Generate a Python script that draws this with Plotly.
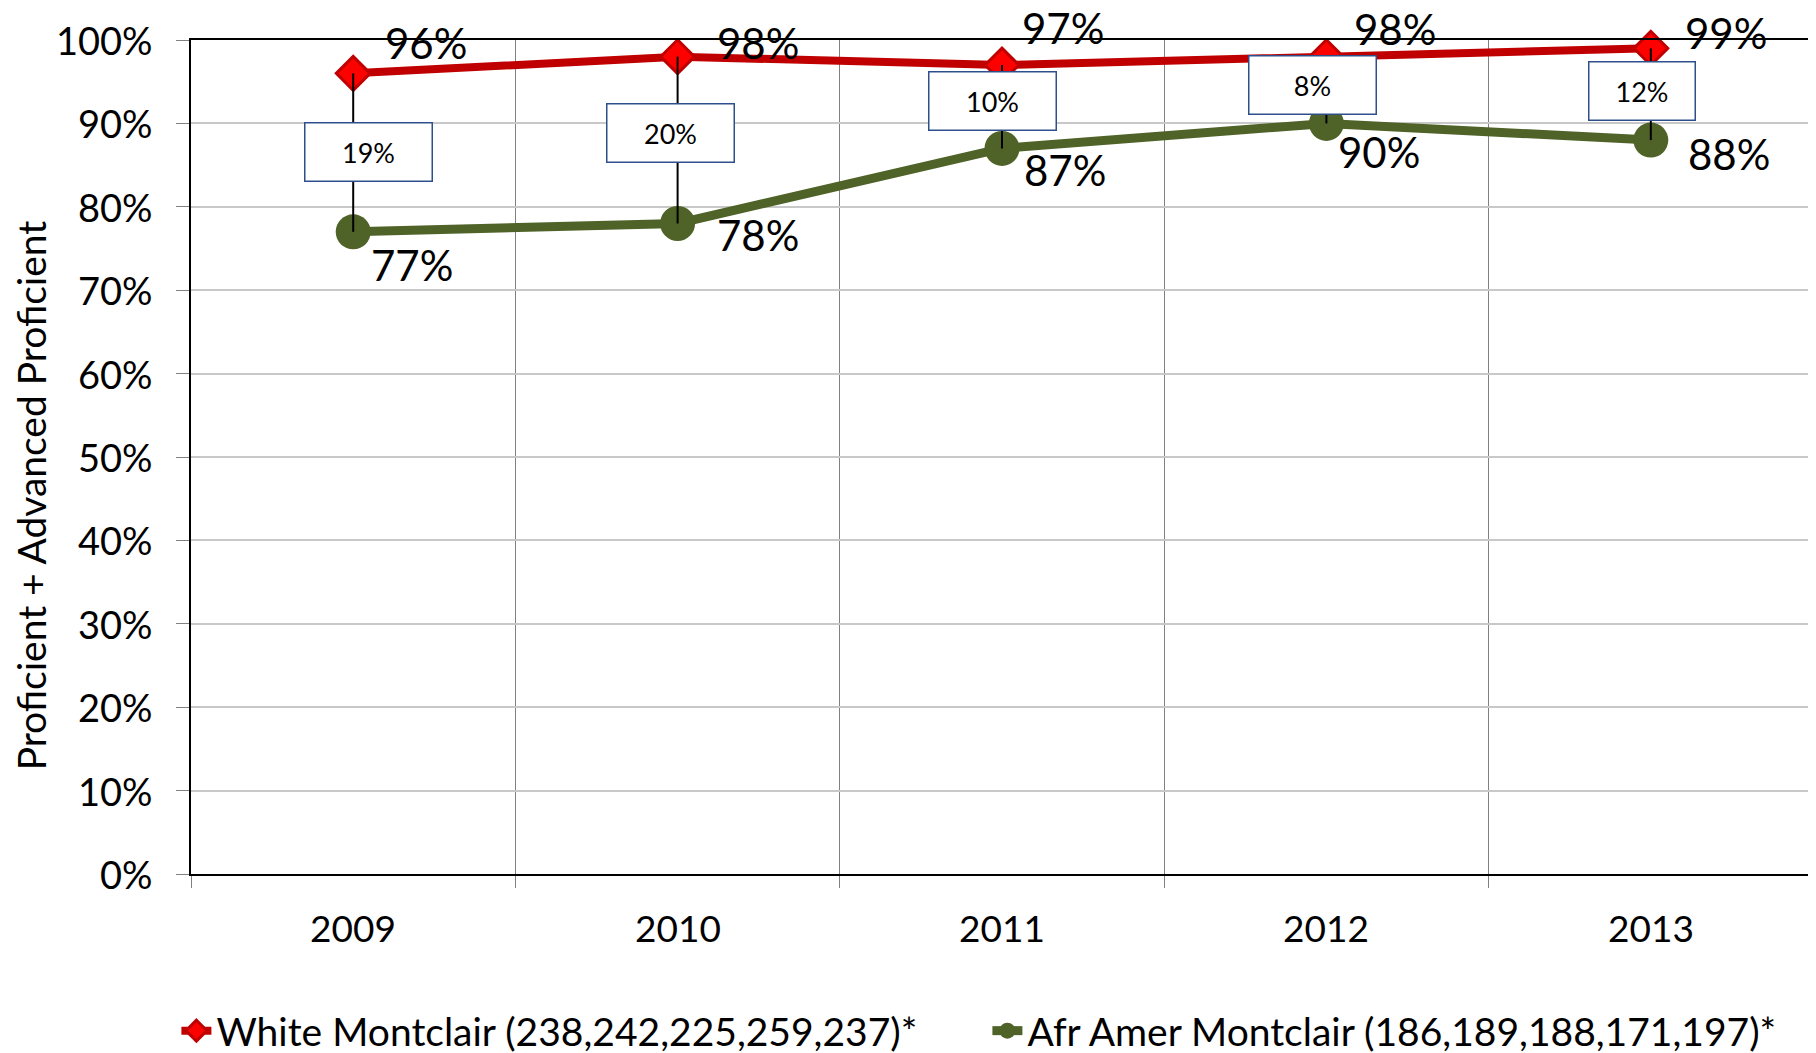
import plotly.graph_objects as go

years = ["2009", "2010", "2011", "2012", "2013"]
white_vals = [0.96, 0.98, 0.97, 0.98, 0.99]
afr_vals = [0.77, 0.78, 0.87, 0.90, 0.88]
gap_labels = ["19%", "20%", "10%", "8%", "12%"]
y_ticks = [0.0, 0.1, 0.2, 0.3, 0.4, 0.5, 0.6, 0.7, 0.8, 0.9, 1.0]
y_tick_labels = ["0%", "10%", "20%", "30%", "40%", "50%", "60%", "70%", "80%", "90%", "100%"]
white_name = "White Montclair (238,242,225,259,237)*"
afr_name = "Afr Amer Montclair (186,189,188,171,197)*"
y_title = "Proficient + Advanced Proficient"

# label placement (pixel offsets, style only)
white_lbl_dx = [30, 37, 18, 26, 32]
white_lbl_dy = [30, 14, 37, 28, 15]
afr_lbl_dx = [16, 37, 20, 10, 35]
afr_lbl_dy = [-33, -12, -22, -29, -14]
box_dx = [15, -7, -10, -14, -9]
box_dy = [1, 7, 6, 5, 3]
box_w = [124, 124, 124, 124, 103]

FONT = "Lato"
RED_LINE = "#C00000"
RED_FILL = "#FF0000"
GREEN = "#4F6228"

fig = go.Figure()

fig.add_trace(go.Scatter(
    x=years, y=white_vals, name=white_name, mode="lines+markers",
    line=dict(color=RED_LINE, width=8),
    marker=dict(symbol="diamond", size=26, color=RED_FILL,
                line=dict(color=RED_LINE, width=3)),
    cliponaxis=False,
))
fig.add_trace(go.Scatter(
    x=years, y=afr_vals, name=afr_name, mode="lines+markers",
    line=dict(color=GREEN, width=9),
    marker=dict(symbol="circle", size=35, color=GREEN),
    cliponaxis=False,
))

# high-low connector lines
hx, hy = [], []
for yr, w, a in zip(years, white_vals, afr_vals):
    hx += [yr, yr, None]
    hy += [w, a, None]
fig.add_trace(go.Scatter(x=hx, y=hy, mode="lines", showlegend=False,
                         line=dict(color="black", width=2), hoverinfo="skip",
                         cliponaxis=False))

for i, (w, a, g) in enumerate(zip(white_vals, afr_vals, gap_labels)):
    fig.add_annotation(
        x=i, y=w, xref="x", yref="y", text=f"{round(w*100)}%",
        showarrow=False, xanchor="left", yanchor="middle",
        xshift=white_lbl_dx[i], yshift=white_lbl_dy[i],
        font=dict(family=FONT, size=42, color="black"))
    fig.add_annotation(
        x=i, y=a, xref="x", yref="y", text=f"{round(a*100)}%",
        showarrow=False, xanchor="left", yanchor="middle",
        xshift=afr_lbl_dx[i], yshift=afr_lbl_dy[i],
        font=dict(family=FONT, size=42, color="black"))
    fig.add_annotation(
        x=i, y=(w + a) / 2, xref="x", yref="y", text=g,
        showarrow=False, xanchor="center", yanchor="middle",
        xshift=box_dx[i], yshift=box_dy[i],
        width=box_w[i], height=55,
        bgcolor="white", bordercolor="#2F4E8C", borderwidth=1.5, borderpad=1,
        font=dict(family=FONT, size=27, color="black"))

# tick labels
for v, t in zip(y_ticks, y_tick_labels):
    fig.add_annotation(x=0, y=v, xref="paper", yref="y", text=t, showarrow=False,
                       xanchor="right", yanchor="middle", xshift=-36,
                       font=dict(family=FONT, size=38, color="black"))
for i, yr in enumerate(years):
    fig.add_annotation(x=i, y=0, xref="x", yref="paper", text=yr, showarrow=False,
                       xanchor="center", yanchor="middle", yshift=-53,
                       font=dict(family=FONT, size=37, color="black"))

fig.add_annotation(
    x=0, y=0.454, xref="paper", yref="paper", text=y_title, textangle=-90,
    showarrow=False, xanchor="center", yanchor="middle", xshift=-160,
    font=dict(family=FONT, size=39, color="black"))

# the page body adds an 8px margin, so the figure is 8px smaller
fig.update_layout(
    width=1808, height=1045,
    margin=dict(l=183, r=3, t=32, b=179, autoexpand=False),
    paper_bgcolor="white", plot_bgcolor="white",
    font=dict(family=FONT, color="black"),
    showlegend=True,
    legend=dict(orientation="h", x=-0.009, xanchor="left", y=-0.188,
                yanchor="middle", font=dict(family=FONT, size=39, color="black"),
                bgcolor="rgba(0,0,0,0)", entrywidth=766, entrywidthmode="pixels"),
)

fig.update_xaxes(
    type="category", tickson="boundaries", showgrid=True,
    gridcolor="#808080", gridwidth=1,
    ticks="outside", ticklen=12, tickcolor="#808080",
    showline=True, linecolor="black", linewidth=2, mirror=True,
    showticklabels=False, range=[-0.5, 4.5],
)
fig.update_yaxes(
    range=[0, 1], tickvals=y_ticks, showgrid=True,
    gridcolor="#C8C8C8", gridwidth=1.5,
    ticks="outside", ticklen=13, tickcolor="#808080",
    showline=True, linecolor="black", linewidth=2, mirror=True,
    showticklabels=False, zeroline=False,
)

fig.write_html("out.html")
